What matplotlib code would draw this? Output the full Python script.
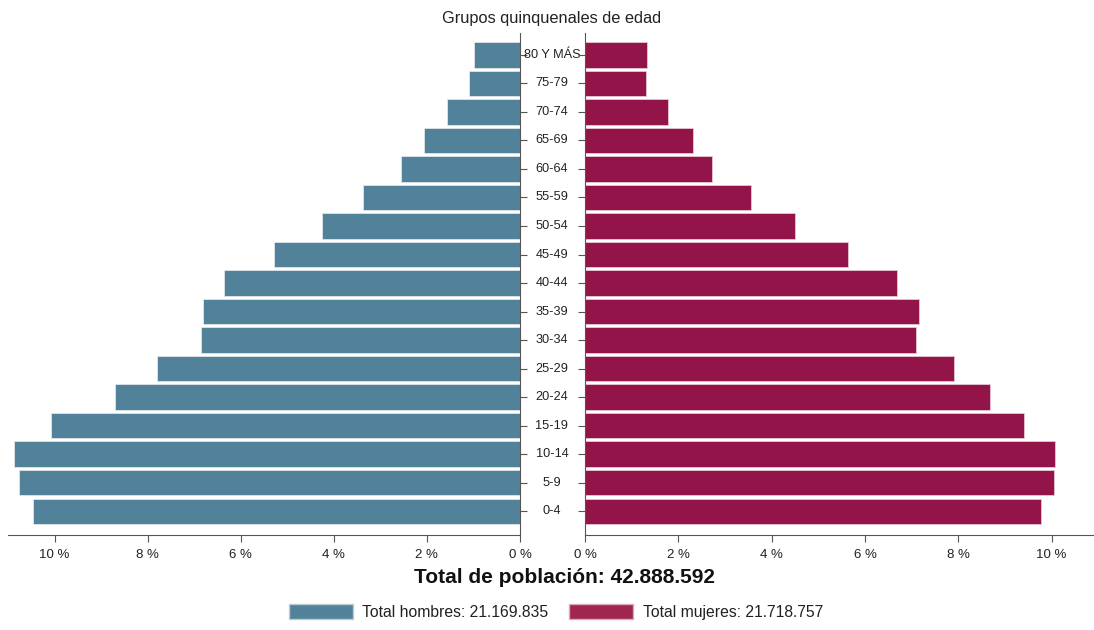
import matplotlib.pyplot as plt
from matplotlib.patches import Patch
from matplotlib import font_manager
import matplotlib.transforms as mtransforms

# Narrow font if available, otherwise Liberation Sans
names = {f.name for f in font_manager.fontManager.ttflist}
families = [n for n in ['Liberation Sans Narrow', 'Liberation Sans'] if n in names] + ['DejaVu Sans']
plt.rcParams['font.family'] = families

# Age groups, bottom to top
age_groups = ['0-4', '5-9', '10-14', '15-19', '20-24', '25-29', '30-34', '35-39',
              '40-44', '45-49', '50-54', '55-59', '60-64', '65-69', '70-74', '75-79', '80 Y MÁS']
# Percentage of total population
men_pct = [10.47, 10.77, 10.88, 10.07, 8.71, 7.79, 6.85, 6.80,
           6.35, 5.28, 4.25, 3.37, 2.55, 2.06, 1.57, 1.09, 0.99]
women_pct = [9.77, 10.05, 10.07, 9.41, 8.68, 7.91, 7.09, 7.16,
             6.69, 5.64, 4.50, 3.56, 2.72, 2.31, 1.78, 1.31, 1.33]
x_ticks = [0, 2, 4, 6, 8, 10]
x_tick_labels = ['0 %', '2 %', '4 %', '6 %', '8 %', '10 %']

men_color = '#52819a'
women_color = '#921448'
men_legend_color = '#52819a'
women_legend_color = '#a0264f'
spine_color = '#555555'

fig = plt.figure(figsize=(10.94, 6.30), dpi=100)
ax_l = fig.add_axes([0.0073, 0.1508, 0.4680, 0.7968])
ax_r = fig.add_axes([0.5347, 0.1508, 0.4650, 0.7968])

y = list(range(len(age_groups)))

ax_l.barh(y, men_pct, height=0.88, color=men_color, edgecolor='#dfe6ea', linewidth=0.6)
ax_r.barh(y, women_pct, height=0.88, color=women_color, edgecolor='#e8c6d2', linewidth=0.6)

ax_l.set_xlim(11, 0)
ax_r.set_xlim(0, 10.9)
for ax in (ax_l, ax_r):
    ax.set_ylim(-0.84, len(age_groups) - 1 + 0.77)
    ax.set_xticks(x_ticks)
    ax.set_xticklabels(x_tick_labels, fontsize=9.5, color='#222222')
    ax.set_yticks(y)
    ax.set_yticklabels([])
    ax.spines['top'].set_visible(False)
    ax.spines['bottom'].set_color(spine_color)
    ax.tick_params(axis='both', colors=spine_color, length=5, width=0.8, labelcolor='#222222')
    ax.tick_params(axis='x', pad=5)

ax_l.spines['left'].set_visible(False)
ax_l.spines['right'].set_color(spine_color)
ax_l.yaxis.tick_right()
ax_r.spines['right'].set_visible(False)
ax_r.spines['left'].set_color(spine_color)

# Age group labels in the gap between the two halves
trans = mtransforms.blended_transform_factory(fig.transFigure, ax_l.transData)
for yi, label in zip(y, age_groups):
    ax_l.text(0.5045, yi, label, transform=trans, ha='center', va='center',
              fontsize=9.2, color='#222222', clip_on=False)

fig.text(0.5045, 0.970, 'Grupos quinquenales de edad', ha='center', va='center',
         fontsize=11.8, color='#222222')
fig.text(0.516, 0.083, 'Total de población: 42.888.592', ha='center', va='center',
         fontsize=15, fontweight='bold', color='#111111')

handles = [Patch(facecolor=men_legend_color, edgecolor='#c0ccd3', label='Total hombres: 21.169.835'),
           Patch(facecolor=women_legend_color, edgecolor='#d9aab9', label='Total mujeres: 21.718.757')]
fig.legend(handles=handles, loc='center', bbox_to_anchor=(0.508, 0.029), ncol=2, frameon=False,
           fontsize=11.3, handlelength=4.1, handleheight=1.1, columnspacing=1.3, handletextpad=0.6,
           labelcolor='#222222')

fig.savefig('out.png', dpi=100)
